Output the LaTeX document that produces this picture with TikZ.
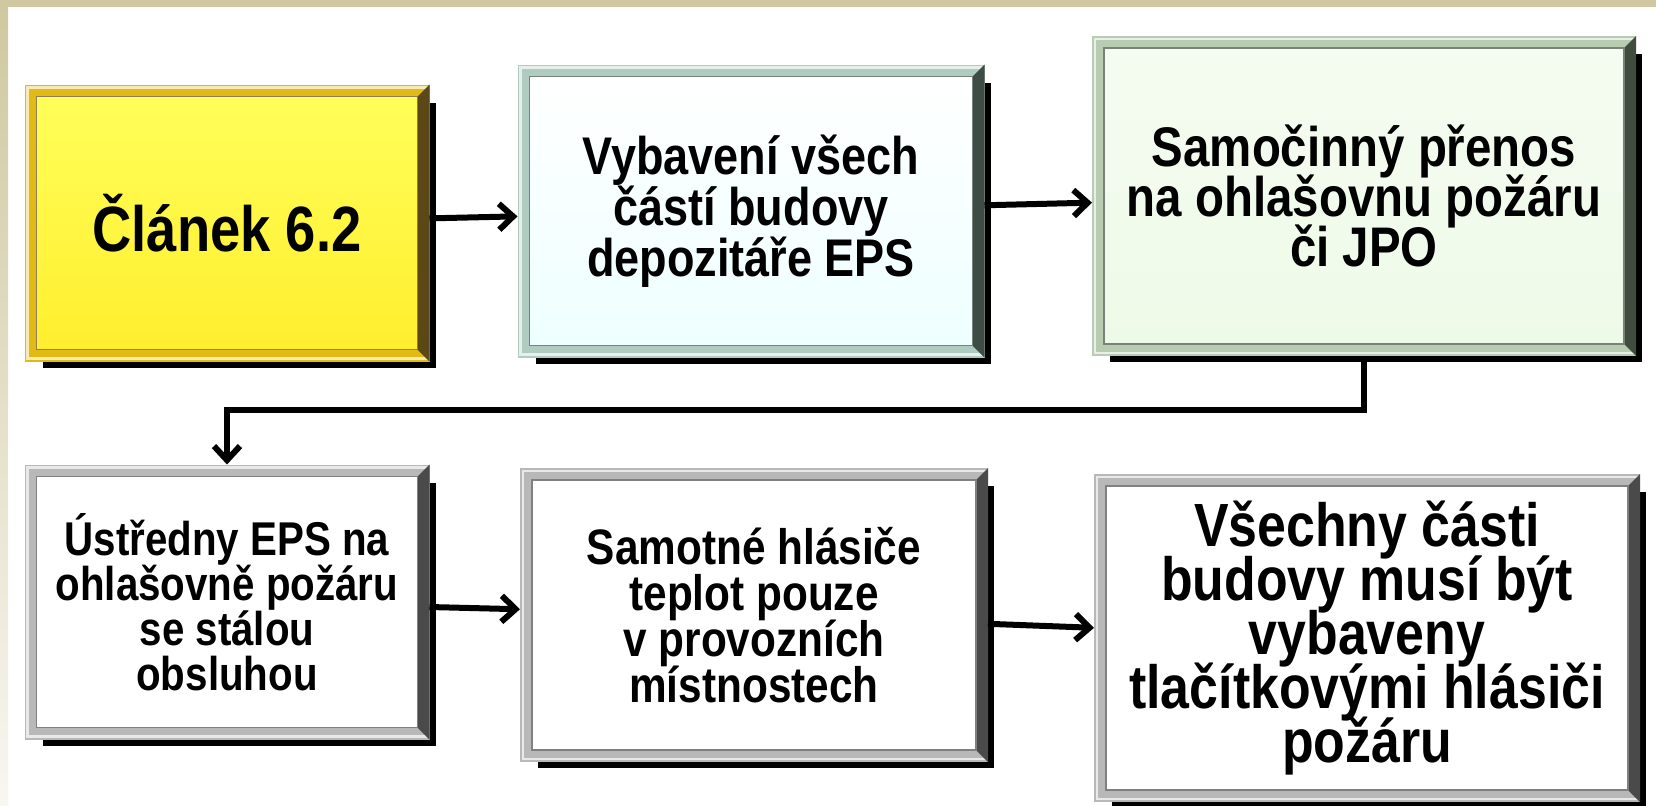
\documentclass[tikz,border=0pt]{standalone}
\usepackage{fontspec}
\setmainfont{Liberation Sans}[FakeStretch=0.85]
\usetikzlibrary{shadows}
\usetikzlibrary{arrows.meta}
\usetikzlibrary{calc}
\definecolor{slidebeige}{RGB}{207,200,160}
\definecolor{goldframe}{RGB}{226,186,20}
\definecolor{goldedge}{RGB}{92,72,22}
\definecolor{yellowtop}{RGB}{255,255,90}
\definecolor{yellowbot}{RGB}{255,238,45}
\definecolor{tealframe}{RGB}{176,204,192}
\definecolor{tealedge}{RGB}{62,76,70}
\definecolor{tealfill}{RGB}{238,255,255}
\definecolor{greenframe}{RGB}{184,204,178}
\definecolor{greenedge}{RGB}{64,76,62}
\definecolor{greenfill}{RGB}{238,250,232}
\definecolor{grayframe}{RGB}{184,184,184}
\definecolor{grayedge}{RGB}{74,74,74}
\tikzset{panel/.style={draw=#1,line width=6pt,align=center,inner sep=0pt,execute at begin node={\lineskiplimit=-20pt\relax},general shadow={fill=black,shadow xshift=6pt,shadow yshift=-6pt,rounded corners=3pt}},
flowarrow/.style={-{Straight Barb[length=7pt,width=13pt]},line width=3pt}}

\begin{document}
\begin{tikzpicture}[x=0.5pt,y=-0.5pt]
\useasboundingbox (0,0) rectangle (1656,805);
\fill[white] (0,0) rectangle (1656,805);
\fill[slidebeige] (0,0) rectangle (1656,7);
\shade[top color=slidebeige,bottom color=slidebeige!15] (0,0) rectangle (8,805);

\node (a) [panel=goldframe, top color=yellowtop, bottom color=yellowbot, minimum width=196.5pt, minimum height=132.5pt, font=\bfseries\fontsize{32}{36}\selectfont] at (227,223) {Článek 6.2};
\node (b) [panel=tealframe, top color=white, bottom color=tealfill, minimum width=227.5pt, minimum height=140.5pt, font=\bfseries\fontsize{26.5}{25.5}\selectfont] at (751,211) {Vybavení všech\\částí budovy\\depozitáře EPS};
\node (c) [panel=greenframe, top color=greenfill!60, bottom color=greenfill, minimum width=266pt, minimum height=154pt, font=\bfseries\fontsize{27.9}{25}\selectfont] at (1364,196) {Samočinný přenos\\na ohlašovnu požáru\\či JPO};
\node (d) [panel=grayframe, fill=white, minimum width=196.5pt, minimum height=131.5pt, font=\bfseries\fontsize{23.7}{22.5}\selectfont] at (227,602) {Ústředny EPS na\\ohlašovně požáru\\se stálou\\obsluhou};
\node (e) [panel=grayframe, fill=white, minimum width=228pt, minimum height=141pt, font=\bfseries\fontsize{24.9}{23}\selectfont] at (754,615) {Samotné hlásiče\\teplot pouze\\v provozních\\místnostech};
\node (f) [panel=grayframe, fill=white, minimum width=267pt, minimum height=158pt, font=\bfseries\fontsize{30.5}{27}\selectfont] at (1367,638) {Všechny části\\budovy musí být\\vybaveny\\tlačítkovými hlásiči\\požáru};

% bevel edges
\foreach \n/\c in {a/goldedge,b/tealedge,c/greenedge,d/grayedge,e/grayedge,f/grayedge}{
\draw[white, line width=1.2pt, opacity=0.7] ([shift={(1.5pt,-1.5pt)}]\n.north west) rectangle ([shift={(-1.5pt,1.5pt)}]\n.south east);
\fill[\c] (\n.north east) -- (\n.south east) -- ([shift={(-6pt,6pt)}]\n.south east) -- ([shift={(-6pt,-6pt)}]\n.north east) -- cycle;
\draw[\c!70, line width=0.6pt] ([shift={(6pt,-6pt)}]\n.north west) rectangle ([shift={(-6pt,6pt)}]\n.south east);
}

\draw[flowarrow] (a) -- (b);
\draw[flowarrow] (b) -- (c);
\coordinate (turn) at ($(c.south)!0.5!(d.north)$);
\draw[flowarrow] (c.south) |- (turn) -| (d.north);
\draw[flowarrow] (d) -- (e);
\draw[flowarrow] (e) -- (f);
\end{tikzpicture}
\end{document}
